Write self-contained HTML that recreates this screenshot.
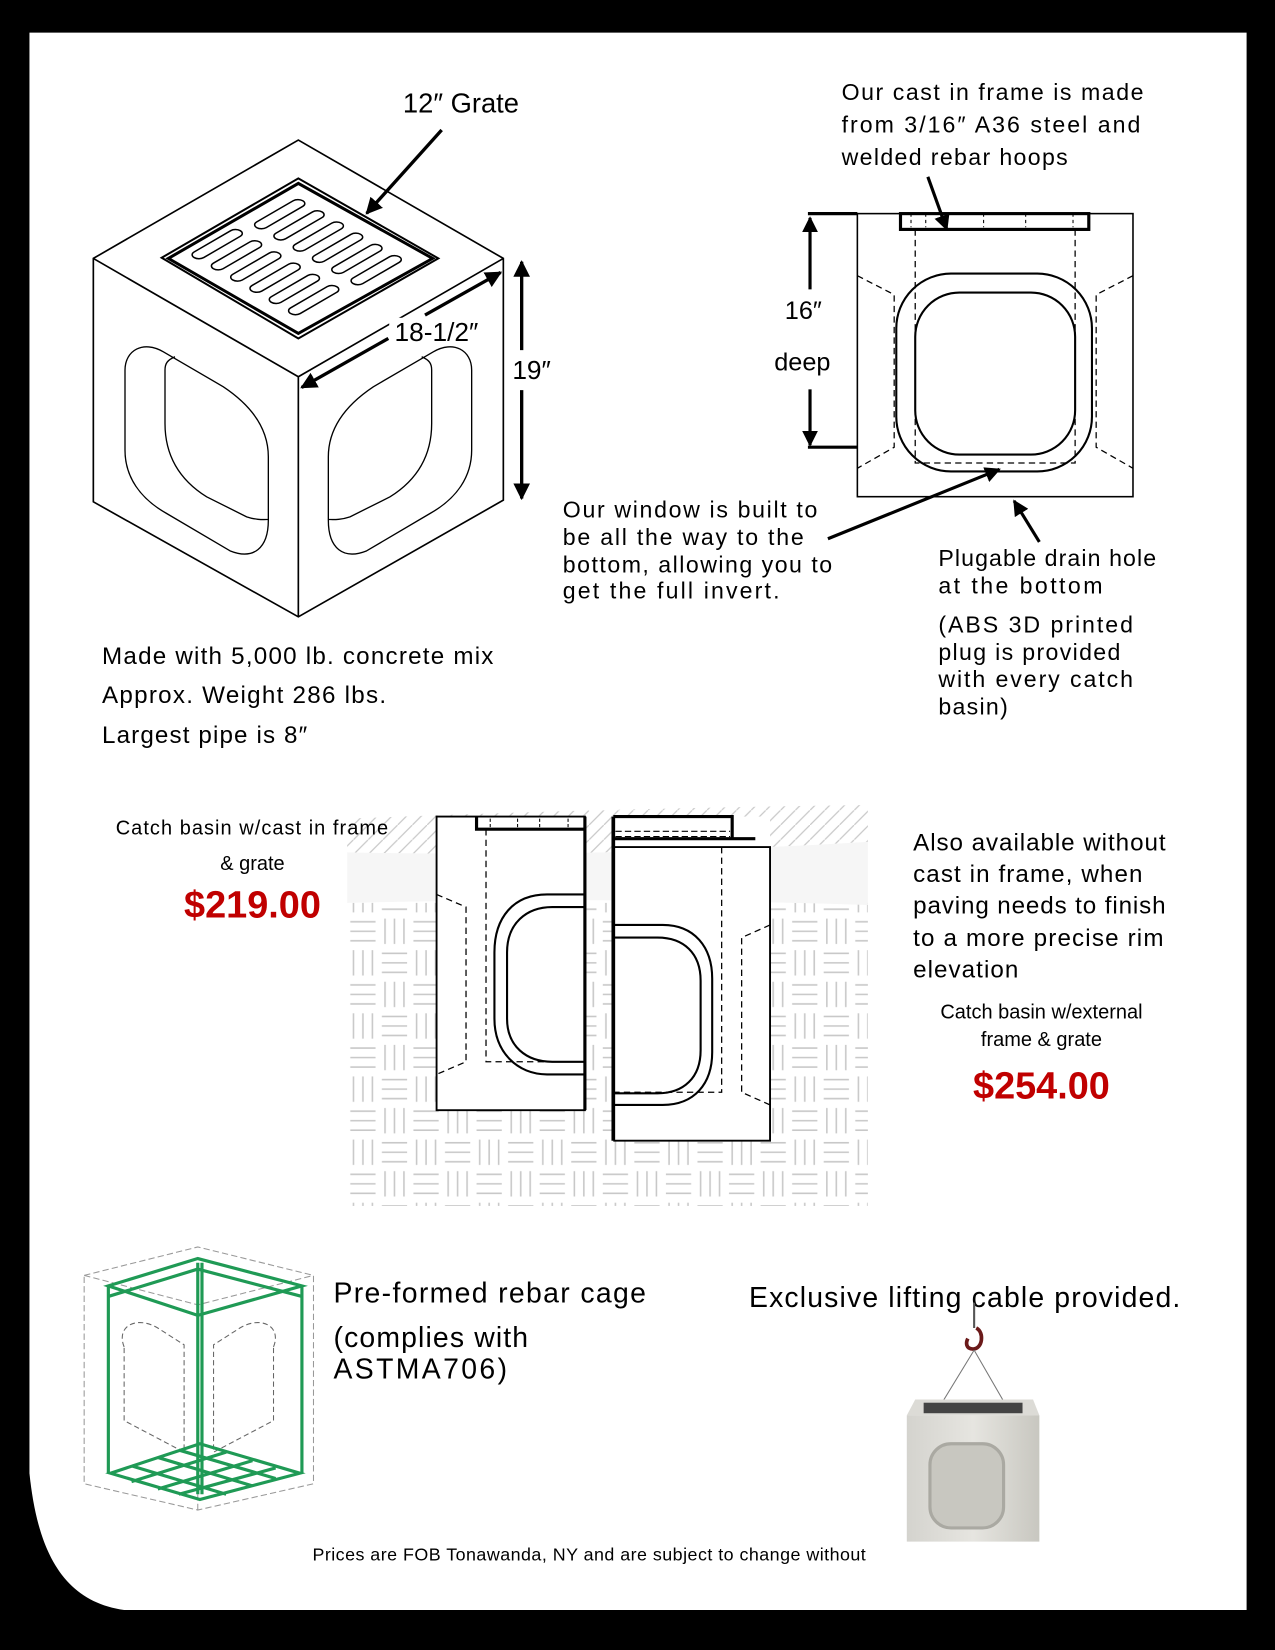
<!DOCTYPE html>
<html><head><meta charset="utf-8"><style>
html,body{margin:0;padding:0;background:#000;}
svg{display:block;}
text{font-family:"Liberation Sans","DejaVu Sans",sans-serif;fill:#000;}
</style></head><body>
<svg width="1275" height="1650" viewBox="0 0 1212 1568" preserveAspectRatio="none" xmlns="http://www.w3.org/2000/svg">
<defs>
<marker id="ah" viewBox="0 0 10 10" refX="9" refY="5" markerWidth="5" markerHeight="5" orient="auto-start-reverse"><path d="M0,0 L10,5 L0,10 Z" fill="#000"/></marker>
<pattern id="weave" width="60" height="60" patternUnits="userSpaceOnUse">
<g stroke="#c8c8c8" stroke-width="1.5" fill="none">
<path d="M3,6 H27 M3,15 H27 M3,24 H27"/>
<path d="M36,3 V27 M45,3 V27 M54,3 V27"/>
<path d="M6,33 V57 M15,33 V57 M24,33 V57"/>
<path d="M33,36 H57 M33,45 H57 M33,54 H57"/>
</g></pattern>
<pattern id="hatch" width="14" height="14" patternUnits="userSpaceOnUse"><path d="M0,14 L14,0" stroke="#c8c8c8" stroke-width="1.2"/></pattern>
<linearGradient id="conc" x1="0" y1="0" x2="1" y2="0"><stop offset="0" stop-color="#d4d3ce"/><stop offset="0.5" stop-color="#e6e5e0"/><stop offset="1" stop-color="#c8c7c0"/></linearGradient>
</defs>
<rect width="1212" height="1568" fill="#000"/>
<path d="M28,31 H1185 V1530 H118 C62,1522 36,1478 28,1400 Z" fill="#fff"/>

<!-- cube -->
<g transform="scale(0.9506) translate(80,130) scale(0.33333)" fill="none" stroke="#000" stroke-width="5">
<path d="M655,30 L1270,385 L1270,1110 L655,1460 L40,1115 L40,385 Z"/>
<path d="M40,385 L655,740 L1270,385 M655,740 L655,1460"/>
<path d="M245,383 L655,145 L1075,385 L655,625 Z" stroke-width="6"/>
<path d="M265,385 L655,160 L1058,385 L655,610 Z" stroke-width="9"/>
<g stroke-width="4">
<path d="M565,1170 C565,1255 520,1290 450,1262 L260,1150 C180,1105 135,1040 135,960 L135,720 C135,660 190,630 250,665 L430,770 C520,830 565,900 565,980 Z"/>
<path d="M285,680 C262,690 255,700 255,720 L255,880 C255,980 300,1050 380,1100 L500,1160 C530,1170 550,1168 565,1168"/>
<g transform="translate(1310,0) scale(-1,1)">
<path d="M565,1170 C565,1255 520,1290 450,1262 L260,1150 C180,1105 135,1040 135,960 L135,720 C135,660 190,630 250,665 L430,770 C520,830 565,900 565,980 Z"/>
<path d="M285,680 C262,690 255,700 255,720 L255,880 C255,980 300,1050 380,1100 L500,1160 C530,1170 550,1168 565,1168"/>
</g></g>
<line x1="1035" y1="555" x2="1262" y2="427" stroke-width="10" marker-end="url(#ah)"/>
<line x1="925" y1="625" x2="665" y2="772" stroke-width="10" marker-end="url(#ah)"/>
<line x1="1325" y1="660" x2="1325" y2="395" stroke-width="10" marker-end="url(#ah)"/>
<line x1="1325" y1="780" x2="1325" y2="1105" stroke-width="10" marker-end="url(#ah)"/>
<line x1="1085" y1="0" x2="860" y2="250" stroke-width="10" marker-end="url(#ah)"/>
</g>
<!-- grate slots -->
<g transform="matrix(1.29,-0.75,1.31,0.76,154,245)" fill="#fff" stroke="#000" stroke-width="1.5">
<rect x="12" y="8" width="34" height="7" rx="3.5" vector-effect="non-scaling-stroke"/>
<rect x="12" y="22" width="34" height="7" rx="3.5" vector-effect="non-scaling-stroke"/>
<rect x="12" y="36" width="34" height="7" rx="3.5" vector-effect="non-scaling-stroke"/>
<rect x="12" y="50" width="34" height="7" rx="3.5" vector-effect="non-scaling-stroke"/>
<rect x="12" y="64" width="34" height="7" rx="3.5" vector-effect="non-scaling-stroke"/>
<rect x="12" y="78" width="34" height="7" rx="3.5" vector-effect="non-scaling-stroke"/>
<rect x="54" y="12" width="34" height="7" rx="3.5" vector-effect="non-scaling-stroke"/>
<rect x="54" y="26" width="34" height="7" rx="3.5" vector-effect="non-scaling-stroke"/>
<rect x="54" y="40" width="34" height="7" rx="3.5" vector-effect="non-scaling-stroke"/>
<rect x="54" y="54" width="34" height="7" rx="3.5" vector-effect="non-scaling-stroke"/>
<rect x="54" y="68" width="34" height="7" rx="3.5" vector-effect="non-scaling-stroke"/>
<rect x="54" y="82" width="34" height="7" rx="3.5" vector-effect="non-scaling-stroke"/>
</g>
<rect x="370" y="302" width="100" height="26" fill="#fff"/>
<text x="375" y="324" font-size="25">18-1/2″</text>
<text x="487" y="360" font-size="25">19″</text>
<text x="383" y="107" font-size="26">12″ Grate</text>

<!-- top right section -->
<g fill="none" stroke="#000">
<rect x="815" y="203" width="262" height="269" stroke-width="1.5"/>
<rect x="856" y="203" width="179" height="15" stroke-width="3"/>
<path d="M870,218 V440 H1022 V218" stroke-width="1.2" stroke-dasharray="6,4"/>
<path d="M866,203 V216 M880,203 V216 M935,203 V216 M975,203 V216 M1020,203 V216" stroke-width="1" stroke-dasharray="3,3"/>
<rect x="852" y="260" width="186" height="188" rx="52" stroke-width="2"/>
<rect x="870" y="278" width="152" height="154" rx="42" stroke-width="2"/>
<path d="M815,262 L850,280 V425 L815,445 M1077,262 L1042,280 V425 L1077,445" stroke-width="1.2" stroke-dasharray="6,4"/>
<path d="M768,203 H815 M768,425 H815" stroke-width="3"/>
<line x1="770" y1="275" x2="770" y2="207" stroke-width="3" marker-end="url(#ah)"/>
<line x1="770" y1="370" x2="770" y2="423" stroke-width="3" marker-end="url(#ah)"/>
<line x1="787" y1="512" x2="950" y2="446" stroke-width="3" marker-end="url(#ah)"/>
<line x1="988" y1="515" x2="964" y2="476" stroke-width="3" marker-end="url(#ah)"/>
<line x1="882" y1="168" x2="900" y2="218" stroke-width="3" marker-end="url(#ah)"/>
</g>
<text x="746" y="303" font-size="24">16″</text>
<text x="736" y="352" font-size="24">deep</text>
<g font-size="22">
<text x="800" y="95" textLength="287">Our cast in frame is made</text>
<text x="800" y="126" textLength="284">from 3/16″ A36 steel and</text>
<text x="800" y="157" textLength="215">welded rebar hoops</text>
<text x="535" y="492" textLength="242">Our window is built to</text>
<text x="535" y="518" textLength="229">be all the way to the</text>
<text x="535" y="544" textLength="256">bottom, allowing you to</text>
<text x="535" y="569" textLength="206">get the full invert.</text>
<text x="892" y="538" textLength="207">Plugable drain hole</text>
<text x="892" y="564" textLength="156">at the bottom</text>
<text x="892" y="601" textLength="185">(ABS 3D printed</text>
<text x="892" y="627" textLength="173">plug is provided</text>
<text x="892" y="653" textLength="185">with every catch</text>
<text x="892" y="679" textLength="66">basin)</text>
</g>
<g font-size="23">
<text x="97" y="631" textLength="372">Made with 5,000 lb. concrete mix</text>
<text x="97" y="668" textLength="270">Approx. Weight 286 lbs.</text>
<text x="97" y="706" textLength="195">Largest pipe is 8″</text>
</g>

<!-- middle ground -->
<rect x="330" y="858" width="495" height="288" fill="url(#weave)"/>
<path d="M330,778 Q580,768 825,765 V800 Q580,815 330,810 Z" fill="url(#hatch)"/>
<path d="M330,810 Q580,815 825,800 V860 Q580,852 330,858 Z" fill="#f6f6f6"/>
<rect x="415" y="776" width="141" height="279" fill="#fff"/>
<rect x="583" y="776" width="149" height="308" fill="#fff"/>
<g fill="none" stroke="#000">
<path d="M415,776 H556 V1055 H415 Z" stroke-width="1.8"/>
<line x1="556" y1="776" x2="556" y2="1055" stroke-width="3"/>
<path d="M453,776 V788 H556" stroke-width="3"/>
<path d="M462,788 V1009 H556" stroke-width="1.2" stroke-dasharray="6,4"/>
<path d="M556,850 H520 C488,850 470,872 470,905 V968 C470,1000 492,1021 520,1021 H556" stroke-width="2"/>
<path d="M556,862 H525 C500,862 482,878 482,905 V968 C482,994 500,1009 525,1009 H556" stroke-width="2"/>
<path d="M415,850 L443,862 V1009 L415,1021" stroke-width="1.2" stroke-dasharray="6,4"/>
<path d="M466,778 V787 M492,778 V787 M513,778 V787 M540,778 V787" stroke-width="1" stroke-dasharray="3,2"/>
<line x1="583" y1="776" x2="583" y2="1084" stroke-width="3.5"/>
<path d="M583,805 H732 V1084 H583" stroke-width="1.8"/>
<path d="M583,776 H696 V797 H583 M696,797 H718" stroke-width="3"/>
<path d="M585,790 H694 M585,795 H694" stroke-width="1" stroke-dasharray="6,3"/>
<path d="M686,805 V1038 H583" stroke-width="1.2" stroke-dasharray="6,4"/>
<path d="M583,879 H630 C660,879 677,900 677,930 V1000 C677,1030 660,1050 630,1050 H583" stroke-width="2"/>
<path d="M583,891 H625 C650,891 666,906 666,932 V998 C666,1024 650,1039 625,1039 H583" stroke-width="2"/>
<path d="M732,879 L705,891 V1038 L732,1050" stroke-width="1.2" stroke-dasharray="6,4"/>
</g>
<text x="110" y="793" font-size="19" textLength="259">Catch basin w/cast in frame</text>
<text x="240" y="827" font-size="19" text-anchor="middle">&amp; grate</text>
<text x="240" y="872" font-size="36" font-weight="bold" style="fill:#c00000" text-anchor="middle">$219.00</text>
<g font-size="23">
<text x="868" y="808" textLength="240">Also available without</text>
<text x="868" y="838" textLength="218">cast in frame, when</text>
<text x="868" y="868" textLength="240">paving needs to finish</text>
<text x="868" y="899" textLength="238">to a more precise rim</text>
<text x="868" y="929" textLength="100">elevation</text>
</g>
<text x="990" y="968" font-size="19" text-anchor="middle">Catch basin w/external</text>
<text x="990" y="994" font-size="19" text-anchor="middle">frame &amp; grate</text>
<text x="990" y="1044" font-size="36" font-weight="bold" style="fill:#c00000" text-anchor="middle">$254.00</text>

<!-- rebar cage -->
<g fill="none">
<path d="M80,1212 L188,1185 L298,1212 V1410 L188,1435 L80,1410 Z M80,1212 L188,1240 L298,1212 M188,1240 V1435" stroke="#999" stroke-width="1" stroke-dasharray="6,3"/>
<path d="M118,1280 C110,1260 130,1250 150,1262 L175,1278 V1380 L118,1350 Z M260,1280 C268,1260 248,1250 228,1262 L203,1278 V1380 L260,1350 Z" stroke="#666" stroke-width="1" stroke-dasharray="5,3"/>
<g stroke="#1f9a55" stroke-width="3">
<path d="M103,1222 L188,1196 L287,1222 L188,1250 Z"/>
<path d="M103,1232 L188,1206 L287,1232"/>
<path d="M103,1222 V1400 M188,1200 V1420 M287,1222 V1400 M192,1200 V1420"/>
<path d="M105,1400 L190,1372 L285,1400 L190,1425 Z M125,1393 L215,1420 M150,1385 L240,1412 M170,1378 L262,1405 M125,1408 L215,1380 M150,1415 L240,1388 M170,1420 L262,1395"/>
</g></g>
<g font-size="27">
<text x="317" y="1238" textLength="297">Pre-formed rebar cage</text>
<text x="317" y="1280" textLength="185">(complies with</text>
<text x="317" y="1310" textLength="165">ASTMA706)</text>
<text x="712" y="1242" textLength="410">Exclusive lifting cable provided.</text>
</g>
<!-- photo -->
<g>
<path d="M926,1238 V1262" stroke="#555" stroke-width="2"/>
<path d="M928,1262 C936,1266 934,1282 925,1282 C918,1282 918,1276 920,1272" fill="none" stroke="#6b1a1a" stroke-width="3.5"/>
<path d="M926,1283 L890,1342 M926,1283 L960,1342" stroke="#777" stroke-width="1"/>
<path d="M870,1330 H982 L988,1345 H862 Z" fill="#dcdbd6"/>
<rect x="878" y="1333" width="94" height="10" fill="#444"/>
<rect x="862" y="1345" width="126" height="120" fill="url(#conc)"/>
<rect x="884" y="1372" width="70" height="80" rx="20" fill="#c8c7c0" stroke="#aaa9a2" stroke-width="3"/>
</g>
<text x="297" y="1483" font-size="17" textLength="526">Prices are FOB Tonawanda, NY and are subject to change without</text>
</svg>
</body></html>
